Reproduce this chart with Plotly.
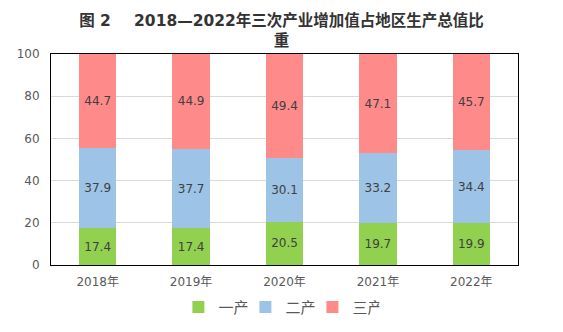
import plotly.graph_objects as go

years = ["2018年", "2019年", "2020年", "2021年", "2022年"]
primary = [17.4, 17.4, 20.5, 19.7, 19.9]
secondary = [37.9, 37.7, 30.1, 33.2, 34.4]
tertiary = [44.7, 44.9, 49.4, 47.1, 45.7]
names = ["一产", "二产", "三产"]
colors = ["#92d050", "#9dc3e6", "#ff8a8a"]

FONT = "Noto Sans CJK SC, DejaVu Sans, sans-serif"
MIX = "DejaVu Sans, Noto Sans CJK SC, sans-serif"

fig = go.Figure()
for name, vals, col in zip(names, [primary, secondary, tertiary], colors):
    fig.add_trace(go.Bar(
        x=years, y=vals, name=name, marker_color=col, marker_line_width=0,
        text=[f"{v:.1f}" for v in vals], textposition="inside",
        insidetextanchor="middle", textangle=0,
        textfont=dict(color="#404040", size=12, family="DejaVu Sans"),
        width=0.4,
    ))

fig.update_layout(
    barmode="stack",
    width=563, height=332,
    margin=dict(l=51, r=45, t=54, b=67, autoexpand=False),
    paper_bgcolor="white", plot_bgcolor="white",
    title=dict(
        text="<b>图 2\u3000\u20022018—2022年三次产业增加值占地区生产总值比<br>重</b>",
        x=0.5, xanchor="center", y=0.922, yanchor="middle",
        font=dict(size=15.5, color="#333333", family=MIX),
    ),
    legend=dict(
        orientation="h", x=0.488, xanchor="center", y=-0.2, yanchor="middle",
        font=dict(size=15, color="#595959", family=FONT),
        traceorder="normal", itemwidth=30, entrywidth=22, entrywidthmode="pixels",
    ),
    showlegend=True,
)
fig.update_xaxes(
    showline=True, linecolor="black", linewidth=1, mirror=True,
    tickfont=dict(size=12, color="#595959", family=MIX),
    ticks="", ticklabelstandoff=6, automargin=False,
)
fig.update_yaxes(
    range=[0, 100], dtick=20, showline=True, linecolor="black", linewidth=1, mirror=True,
    showgrid=True, gridcolor="#d9d9d9", gridwidth=1,
    tickfont=dict(size=12, color="#595959", family="DejaVu Sans"),
    ticks="", zeroline=False, ticklabelstandoff=8, automargin=False,
)

fig.write_html("out.html")
